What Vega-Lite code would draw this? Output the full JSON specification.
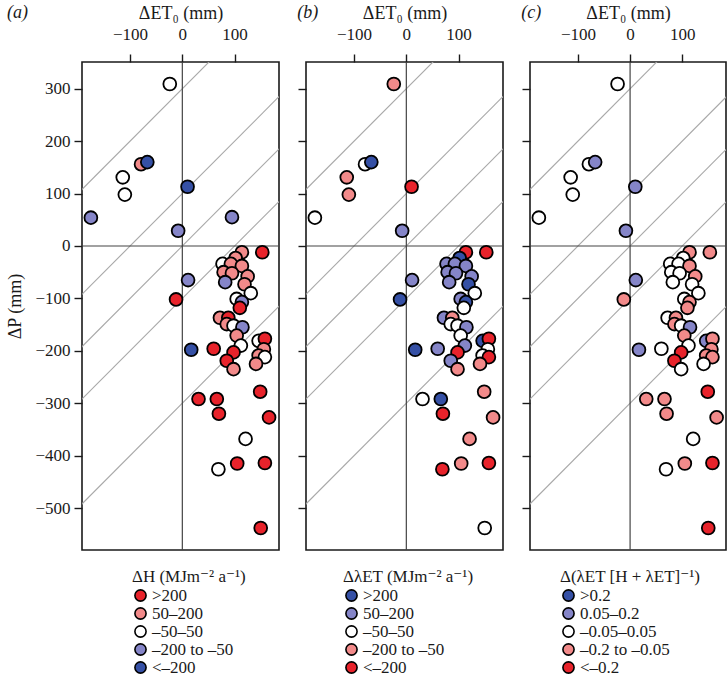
{
  "$schema": "https://vega.github.io/schema/vega-lite/v6.json",
  "padding": {"left": 6, "top": 3, "right": 0, "bottom": 0},
  "background": "white",
  "bounds": "flush",
  "spacing": 27,
  "config": {
    "font": "Times New Roman, Tinos, Liberation Serif, DejaVu Serif, Noto Serif, serif",
    "view": {"stroke": "#1a1a1a", "strokeWidth": 1.6},
    "axis": {"labelFont": "Times New Roman, Tinos, Liberation Serif, DejaVu Serif, Noto Serif, serif", "labelFontSize": 17, "labelColor": "#1a1a1a", "titleFont": "Times New Roman, Tinos, Liberation Serif, DejaVu Serif, Noto Serif, serif", "titleFontSize": 18, "titleFontWeight": "normal", "titleColor": "#1a1a1a", "domain": false, "grid": false, "tickColor": "#1a1a1a", "tickWidth": 1.4, "tickSize": 8},
    "legend": {"titleFont": "Times New Roman, Tinos, Liberation Serif, DejaVu Serif, Noto Serif, serif", "titleFontSize": 17, "titleFontWeight": "normal", "titleColor": "#1a1a1a", "labelFont": "Times New Roman, Tinos, Liberation Serif, DejaVu Serif, Noto Serif, serif", "labelFontSize": 17, "labelColor": "#1a1a1a", "symbolType": "circle", "symbolSize": 125, "symbolStrokeColor": "black", "symbolStrokeWidth": 1.6, "symbolOpacity": 1, "rowPadding": -1, "labelOffset": 3, "titlePadding": 1, "padding": 0},
    "title": {"font": "Times New Roman, Tinos, Liberation Serif, DejaVu Serif, Noto Serif, serif", "fontSize": 18, "fontWeight": "normal", "fontStyle": "italic", "color": "#1a1a1a", "anchor": "start", "frame": "bounds", "offset": 0, "dy": 22}
  },
  "datasets": {
    "lines": [
      {"kind": "d", "et0": -700, "p": -400, "et0b": 700, "pb": 1000},
      {"kind": "d", "et0": -700, "p": -600, "et0b": 700, "pb": 800},
      {"kind": "d", "et0": -700, "p": -700, "et0b": 700, "pb": 700},
      {"kind": "d", "et0": -700, "p": -800, "et0b": 700, "pb": 600},
      {"kind": "d", "et0": -700, "p": -1000, "et0b": 700, "pb": 400},
      {"kind": "z", "et0": 0, "p": -2000, "et0b": 0, "pb": 2000},
      {"kind": "z", "et0": -2000, "p": 0, "et0b": 2000, "pb": 0}
    ],
    "pts": [
      {"et0": -24, "p": 309, "a": "W", "b": "P", "c": "W"},
      {"et0": -79, "p": 156, "a": "P", "b": "W", "c": "W"},
      {"et0": -67, "p": 160, "a": "D", "b": "D", "c": "L"},
      {"et0": -114, "p": 131, "a": "W", "b": "P", "c": "W"},
      {"et0": -110, "p": 98, "a": "W", "b": "P", "c": "W"},
      {"et0": -175, "p": 54, "a": "L", "b": "W", "c": "W"},
      {"et0": 10, "p": 113, "a": "D", "b": "R", "c": "L"},
      {"et0": -8, "p": 29, "a": "L", "b": "L", "c": "L"},
      {"et0": 95, "p": 55, "a": "L", "b": null, "c": null},
      {"et0": 11, "p": -65, "a": "L", "b": "L", "c": "L"},
      {"et0": -12, "p": -102, "a": "R", "b": "D", "c": "P"},
      {"et0": 17, "p": -198, "a": "D", "b": "D", "c": "L"},
      {"et0": 60, "p": -196, "a": "R", "b": "L", "c": "W"},
      {"et0": 31, "p": -292, "a": "R", "b": "W", "c": "P"},
      {"et0": 66, "p": -292, "a": "R", "b": "D", "c": "P"},
      {"et0": 70, "p": -320, "a": "R", "b": "R", "c": "P"},
      {"et0": 149, "p": -278, "a": "R", "b": "P", "c": "R"},
      {"et0": 166, "p": -327, "a": "R", "b": "P", "c": "P"},
      {"et0": 121, "p": -368, "a": "W", "b": "P", "c": "W"},
      {"et0": 69, "p": -426, "a": "W", "b": "R", "c": "W"},
      {"et0": 105, "p": -415, "a": "R", "b": "P", "c": "P"},
      {"et0": 158, "p": -414, "a": "R", "b": "R", "c": "R"},
      {"et0": 150, "p": -538, "a": "R", "b": "W", "c": "R"},
      {"et0": 114, "p": -12, "a": "P", "b": "R", "c": "P"},
      {"et0": 153, "p": -12, "a": "R", "b": "R", "c": "P"},
      {"et0": 102, "p": -23, "a": "P", "b": "D", "c": "W"},
      {"et0": 77, "p": -34, "a": "W", "b": "L", "c": "W"},
      {"et0": 93, "p": -34, "a": "P", "b": "L", "c": "W"},
      {"et0": 114, "p": -38, "a": "P", "b": "L", "c": "P"},
      {"et0": 79, "p": -50, "a": "P", "b": "L", "c": "W"},
      {"et0": 95, "p": -52, "a": "P", "b": "L", "c": "W"},
      {"et0": 125, "p": -58, "a": "P", "b": "L", "c": "P"},
      {"et0": 82, "p": -69, "a": "L", "b": "L", "c": "W"},
      {"et0": 119, "p": -73, "a": "P", "b": "D", "c": "W"},
      {"et0": 131, "p": -90, "a": "W", "b": "W", "c": "W"},
      {"et0": 104, "p": -101, "a": "W", "b": "L", "c": "W"},
      {"et0": 114, "p": -107, "a": "L", "b": "D", "c": "P"},
      {"et0": 110, "p": -118, "a": "R", "b": "W", "c": "P"},
      {"et0": 72, "p": -137, "a": "P", "b": "L", "c": "W"},
      {"et0": 88, "p": -137, "a": "R", "b": "P", "c": "P"},
      {"et0": 85, "p": -149, "a": "P", "b": "W", "c": "P"},
      {"et0": 98, "p": -152, "a": "W", "b": "W", "c": "W"},
      {"et0": 115, "p": -155, "a": "L", "b": "L", "c": "L"},
      {"et0": 104, "p": -171, "a": "P", "b": "W", "c": "P"},
      {"et0": 112, "p": -190, "a": "W", "b": "L", "c": "W"},
      {"et0": 146, "p": -181, "a": "W", "b": "D", "c": "L"},
      {"et0": 158, "p": -177, "a": "R", "b": "R", "c": "P"},
      {"et0": 156, "p": -197, "a": "P", "b": "W", "c": "P"},
      {"et0": 98, "p": -203, "a": "R", "b": "R", "c": "R"},
      {"et0": 146, "p": -209, "a": "P", "b": "W", "c": "P"},
      {"et0": 158, "p": -212, "a": "W", "b": "R", "c": "P"},
      {"et0": 85, "p": -219, "a": "R", "b": "L", "c": "R"},
      {"et0": 98, "p": -235, "a": "P", "b": "P", "c": "W"},
      {"et0": 141, "p": -225, "a": "P", "b": "P", "c": "W"}
    ]
  },
  "resolve": {"scale": {"color": "independent"}, "legend": {"color": "independent"}},
  "hconcat": [
    {
      "width": 197, "height": 488,
      "title": {"text": "(a)"},
      "encoding": {
        "x": {"field": "et0", "type": "quantitative", "title": "ΔET₀ (mm)", "scale": {"domain": [-192, 185], "nice": false, "zero": false}, "axis": {"orient": "top", "values": [-100, 0, 100], "labelPadding": 11, "titlePadding": 3}},
        "y": {"field": "p", "type": "quantitative", "title": "ΔP (mm)", "scale": {"domain": [-580, 351], "nice": false, "zero": false}, "axis": {"values": [-500, -400, -300, -200, -100, 0, 100, 200, 300], "labelPadding": 4, "titlePadding": 10}}
      },
      "layer": [
        {"data": {"name": "lines"}, "transform": [{"filter": "datum.kind == 'd'"}], "mark": {"type": "rule", "clip": true, "color": "#a8a8a8", "strokeWidth": 1.1}, "encoding": {"x2": {"field": "et0b"}, "y2": {"field": "pb"}}},
        {"data": {"name": "lines"}, "transform": [{"filter": "datum.kind == 'z'"}], "mark": {"type": "rule", "clip": true, "color": "#444444", "strokeWidth": 1.2}, "encoding": {"x2": {"field": "et0b"}, "y2": {"field": "pb"}}},
        {"data": {"name": "pts"}, "transform": [{"filter": "datum.a != null"}], "mark": {"type": "circle", "size": 165, "stroke": "black", "strokeWidth": 1.8, "opacity": 1},
          "encoding": {"color": {"field": "a", "type": "nominal", "scale": {"domain": ["R", "P", "W", "L", "D"], "range": ["#e8232b", "#f28a8a", "#ffffff", "#8585c8", "#3550a5"]},
            "legend": {"title": "ΔH (MJm⁻² a⁻¹)", "orient": "none", "legendX": 50, "legendY": 507, "labelExpr": "datum.label == 'R' ? '>200' : datum.label == 'P' ? '50–200' : datum.label == 'W' ? '–50–50' : datum.label == 'L' ? '–200 to –50' : '<–200'"}}}}
      ]
    },
    {
      "width": 197, "height": 488,
      "title": {"text": "(b)"},
      "encoding": {
        "x": {"field": "et0", "type": "quantitative", "title": "ΔET₀ (mm)", "scale": {"domain": [-192, 185], "nice": false, "zero": false}, "axis": {"orient": "top", "values": [-100, 0, 100], "labelPadding": 11, "titlePadding": 3}},
        "y": {"field": "p", "type": "quantitative", "title": null, "scale": {"domain": [-580, 351], "nice": false, "zero": false}, "axis": {"values": [-500, -400, -300, -200, -100, 0, 100, 200, 300], "labels": false}}
      },
      "layer": [
        {"data": {"name": "lines"}, "transform": [{"filter": "datum.kind == 'd'"}], "mark": {"type": "rule", "clip": true, "color": "#a8a8a8", "strokeWidth": 1.1}, "encoding": {"x2": {"field": "et0b"}, "y2": {"field": "pb"}}},
        {"data": {"name": "lines"}, "transform": [{"filter": "datum.kind == 'z'"}], "mark": {"type": "rule", "clip": true, "color": "#444444", "strokeWidth": 1.2}, "encoding": {"x2": {"field": "et0b"}, "y2": {"field": "pb"}}},
        {"data": {"name": "pts"}, "transform": [{"filter": "datum.b != null"}], "mark": {"type": "circle", "size": 165, "stroke": "black", "strokeWidth": 1.8, "opacity": 1},
          "encoding": {"color": {"field": "b", "type": "nominal", "scale": {"domain": ["D", "L", "W", "P", "R"], "range": ["#3550a5", "#8585c8", "#ffffff", "#f28a8a", "#e8232b"]},
            "legend": {"title": "ΔλET (MJm⁻² a⁻¹)", "orient": "none", "legendX": 37, "legendY": 507, "labelExpr": "datum.label == 'D' ? '>200' : datum.label == 'L' ? '50–200' : datum.label == 'W' ? '–50–50' : datum.label == 'P' ? '–200 to –50' : '<–200'"}}}}
      ]
    },
    {
      "width": 196, "height": 488,
      "title": {"text": "(c)"},
      "encoding": {
        "x": {"field": "et0", "type": "quantitative", "title": "ΔET₀ (mm)", "scale": {"domain": [-192, 184], "nice": false, "zero": false}, "axis": {"orient": "top", "values": [-100, 0, 100], "labelPadding": 11, "titlePadding": 3}},
        "y": {"field": "p", "type": "quantitative", "title": null, "scale": {"domain": [-580, 351], "nice": false, "zero": false}, "axis": {"values": [-500, -400, -300, -200, -100, 0, 100, 200, 300], "labels": false}}
      },
      "layer": [
        {"data": {"name": "lines"}, "transform": [{"filter": "datum.kind == 'd'"}], "mark": {"type": "rule", "clip": true, "color": "#a8a8a8", "strokeWidth": 1.1}, "encoding": {"x2": {"field": "et0b"}, "y2": {"field": "pb"}}},
        {"data": {"name": "lines"}, "transform": [{"filter": "datum.kind == 'z'"}], "mark": {"type": "rule", "clip": true, "color": "#444444", "strokeWidth": 1.2}, "encoding": {"x2": {"field": "et0b"}, "y2": {"field": "pb"}}},
        {"data": {"name": "pts"}, "transform": [{"filter": "datum.c != null"}], "mark": {"type": "circle", "size": 165, "stroke": "black", "strokeWidth": 1.8, "opacity": 1},
          "encoding": {"color": {"field": "c", "type": "nominal", "scale": {"domain": ["D", "L", "W", "P", "R"], "range": ["#3550a5", "#8585c8", "#ffffff", "#f28a8a", "#e8232b"]},
            "legend": {"title": "Δ(λET [H + λET]⁻¹)", "orient": "none", "legendX": 30, "legendY": 507, "labelExpr": "datum.label == 'D' ? '>0.2' : datum.label == 'L' ? '0.05–0.2' : datum.label == 'W' ? '–0.05–0.05' : datum.label == 'P' ? '–0.2 to –0.05' : '<–0.2'"}}}}
      ]
    }
  ]
}
